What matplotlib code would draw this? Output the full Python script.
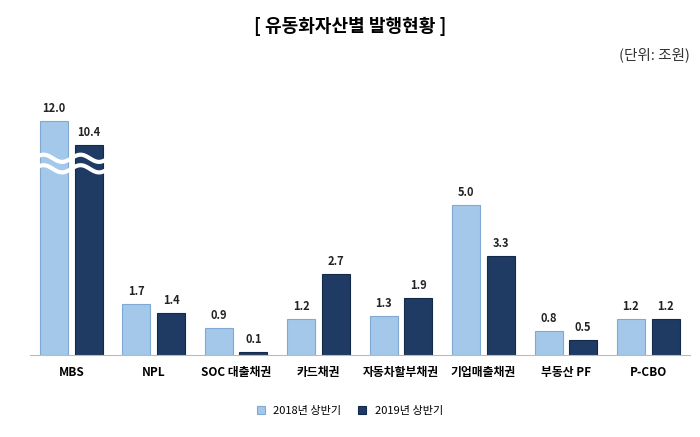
import matplotlib
matplotlib.use("Agg")
import matplotlib.pyplot as plt
import numpy as np

plt.rcParams['font.family'] = ['Noto Sans CJK KR', 'DejaVu Sans']

categories = ["MBS", "NPL", "SOC 대출채권", "카드채권", "자동차할부채권", "기업매출채권", "부동산 PF", "P-CBO"]
s2018 = [12.0, 1.7, 0.9, 1.2, 1.3, 5.0, 0.8, 1.2]
s2019 = [10.4, 1.4, 0.1, 2.7, 1.9, 3.3, 0.5, 1.2]
labels = ["2018년 상반기", "2019년 상반기"]

def disp(v):
    return 1.8 + 0.5 * v if v > 6 else v

fig = plt.figure(figsize=(7, 4.37), dpi=100)
ax = fig.add_axes([0.043, 0.188, 0.942, 0.675])
x = np.arange(len(categories))
w = 0.34
c1, c2 = "#a4c8ea", "#1f3a63"
b1 = ax.bar(x - 0.21, [disp(v) for v in s2018], w, color=c1, edgecolor="#7fa9d3", linewidth=0.8, label=labels[0])
b2 = ax.bar(x + 0.21, [disp(v) for v in s2019], w, color=c2, edgecolor="#142a4a", linewidth=0.8, label=labels[1])
for bars, vals in ((b1, s2018), (b2, s2019)):
    for r, v in zip(bars, vals):
        ax.text(r.get_x() + r.get_width() / 2, r.get_height() + 0.2, f"{v:.1f}",
                ha="center", va="bottom", fontsize=8, fontweight="bold", color="#222")
# axis break on MBS bars
t = np.linspace(-0.45, 0.45, 60)
for yb in (6.2, 6.55):
    ax.plot(t, yb + 0.12 * np.sin(t * 14), color="white", lw=3, zorder=5)
ax.set_xlim(-0.5, len(categories) - 0.5)
ax.set_ylim(0, 9.83)
ax.set_yticks([])
ax.set_xticks(x)
ax.set_xticklabels(categories, fontsize=8.5, fontweight="bold")
ax.tick_params(axis="x", length=0, pad=8)
for s in ("top", "left", "right"):
    ax.spines[s].set_visible(False)
ax.spines["bottom"].set_color("#bbbbbb")
fig.text(0.5, 0.94, "[ 유동화자산별 발행현황 ]", ha="center", va="center", fontsize=13, fontweight="bold")
fig.text(0.985, 0.875, "(단위: 조원)", ha="right", va="center", fontsize=10.5, color="#333")
fig.legend(handles=[b1, b2], loc="center", bbox_to_anchor=(0.5, 0.06), ncol=2, frameon=False,
           fontsize=8, handlelength=0.7, handleheight=0.7, columnspacing=1.5)
fig.savefig("out.png", dpi=100)
